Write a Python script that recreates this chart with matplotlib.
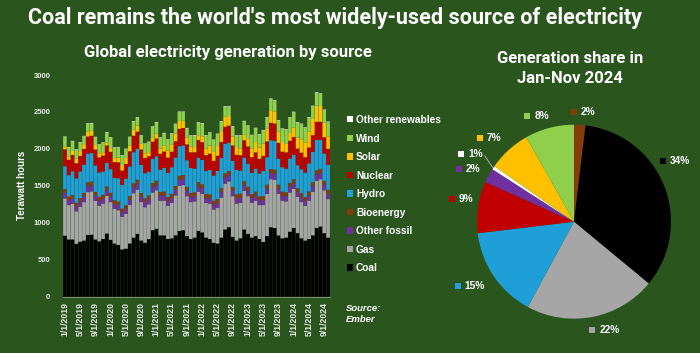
import matplotlib
matplotlib.use("Agg")
import matplotlib.pyplot as plt
from matplotlib.patches import Patch
import numpy as np

# ---------------- data ----------------
months = [f"{m}/1/{y}" for y in range(2019, 2025) for m in range(1, 13)][:70]

coal = [
    825, 775, 775, 715, 745, 760, 835, 840, 775, 750, 780, 855,
    770, 720, 700, 640, 650, 720, 800, 850, 760, 730, 780, 900,
    920, 830, 830, 780, 790, 830, 890, 900, 820, 780, 800, 890,
    870, 800, 780, 730, 720, 800, 910, 940, 810, 760, 790, 910,
    850, 800, 820, 780, 740, 820, 940, 930, 830, 790, 800, 880,
    930, 860, 790, 760, 780, 830, 930, 950, 860, 800]
gas = [
    505, 465, 480, 440, 470, 520, 580, 585, 520, 480, 480, 510,
    510, 470, 470, 440, 470, 520, 600, 600, 520, 480, 470, 510,
    520, 470, 470, 450, 480, 540, 610, 610, 540, 500, 490, 530,
    520, 470, 480, 450, 480, 540, 620, 620, 550, 500, 480, 520,
    510, 470, 480, 460, 500, 570, 650, 650, 560, 510, 490, 530,
    530, 490, 490, 470, 520, 590, 640, 640, 580, 520]
other_fossil = [
    75, 68, 72, 68, 70, 74, 80, 80, 72, 70, 70, 74,
    74, 68, 68, 64, 66, 72, 80, 80, 72, 70, 70, 74,
    76, 70, 72, 68, 70, 76, 82, 82, 74, 72, 72, 76,
    76, 70, 72, 68, 70, 76, 84, 84, 74, 72, 72, 76,
    74, 68, 70, 66, 68, 74, 82, 82, 74, 70, 70, 74,
    74, 68, 70, 66, 70, 76, 84, 84, 74, 72]
bioenergy = [
    50, 46, 50, 48, 50, 50, 53, 53, 50, 50, 50, 53,
    52, 48, 50, 48, 50, 51, 54, 54, 51, 51, 51, 54,
    54, 49, 52, 50, 52, 52, 55, 55, 52, 52, 52, 55,
    55, 50, 53, 51, 53, 53, 56, 56, 53, 53, 53, 56,
    55, 50, 53, 51, 53, 53, 56, 56, 53, 53, 53, 56,
    56, 51, 54, 52, 54, 54, 57, 57, 54, 54]
hydro = [
    310, 290, 320, 330, 360, 380, 390, 385, 360, 330, 315, 320,
    320, 300, 315, 320, 360, 400, 420, 420, 380, 340, 320, 325,
    330, 300, 320, 330, 360, 385, 400, 400, 360, 340, 320, 330,
    330, 310, 330, 340, 380, 410, 400, 385, 350, 330, 310, 320,
    310, 290, 310, 310, 340, 370, 390, 390, 350, 330, 320, 330,
    330, 310, 320, 330, 380, 410, 410, 390, 370, 340]
nuclear = [
    230, 210, 220, 205, 210, 215, 230, 235, 215, 205, 215, 235,
    235, 215, 215, 195, 200, 205, 225, 230, 210, 205, 210, 235,
    240, 215, 220, 205, 210, 220, 235, 235, 215, 210, 220, 240,
    240, 215, 220, 200, 205, 215, 230, 230, 210, 205, 210, 235,
    235, 210, 220, 200, 205, 215, 235, 235, 215, 210, 220, 240,
    240, 225, 225, 210, 215, 225, 245, 245, 220, 215]
solar = [
    40, 45, 55, 60, 65, 65, 65, 65, 60, 55, 45, 40,
    50, 55, 65, 75, 80, 80, 80, 80, 75, 65, 55, 50,
    65, 70, 85, 95, 100, 105, 105, 100, 95, 80, 70, 65,
    80, 90, 110, 120, 130, 135, 135, 130, 120, 105, 90, 80,
    100, 115, 140, 150, 165, 170, 170, 165, 150, 130, 115, 105,
    130, 150, 180, 200, 215, 220, 220, 215, 195, 170]
wind = [
    125, 120, 130, 120, 115, 105, 105, 100, 105, 115, 125, 135,
    140, 140, 135, 125, 120, 110, 110, 105, 110, 125, 135, 150,
    150, 145, 160, 145, 140, 125, 120, 115, 120, 140, 155, 165,
    170, 175, 170, 160, 160, 140, 135, 125, 130, 150, 170, 175,
    175, 180, 185, 175, 175, 150, 150, 140, 150, 175, 190, 205,
    205, 200, 205, 195, 190, 170, 170, 160, 170, 190]
other_renewables = [
    7, 7, 7, 7, 7, 7, 8, 8, 7, 7, 7, 7,
    7, 7, 7, 7, 7, 7, 8, 8, 7, 7, 7, 7,
    8, 7, 8, 7, 8, 8, 8, 8, 8, 8, 8, 8,
    8, 7, 8, 7, 8, 8, 8, 8, 8, 8, 8, 8,
    8, 8, 8, 8, 8, 8, 9, 9, 8, 8, 8, 8,
    8, 8, 8, 8, 8, 9, 9, 9, 9, 9]

series_names = ["Coal", "Gas", "Other fossil", "Bioenergy", "Hydro",
                "Nuclear", "Solar", "Wind", "Other renewables"]
series_values = [coal, gas, other_fossil, bioenergy, hydro,
                 nuclear, solar, wind, other_renewables]
colors = {"Coal": "#000000", "Gas": "#a6a6a6", "Other fossil": "#7030a0",
          "Bioenergy": "#843c0c", "Hydro": "#1e9fd8", "Nuclear": "#c00000",
          "Solar": "#ffc000", "Wind": "#8fcf4c", "Other renewables": "#ffffff"}

pie_names = ["Bioenergy", "Coal", "Gas", "Hydro", "Nuclear", "Other fossil",
             "Other renewables", "Solar", "Wind"]
pie_shares = [1.9, 34.1, 21.9, 15.2, 8.6, 2.4, 0.6, 7.1, 8.2]

# ---------------- style ----------------
BG = "#2a561e"
FG = "#ffffff"
COND = ["Liberation Sans Narrow", "Roboto", "DejaVu Sans"]
plt.rcParams["font.family"] = ["Liberation Sans", "DejaVu Sans"]

fig = plt.figure(figsize=(7.0, 3.53), dpi=100, facecolor=BG)

# ---------------- stacked bars ----------------
W, H = 700, 353
ax = fig.add_axes([63 / W, 1 - 296.7 / H, (330 - 63) / W, (296.7 - 75) / H])
ax.set_facecolor(BG)
x = np.arange(len(months))
bottom = np.zeros(len(months))
for name, vals in zip(series_names, series_values):
    v = np.array(vals, dtype=float)
    bars = ax.bar(x, v, bottom=bottom, width=0.93, color=colors[name],
                  linewidth=0)
    for b in bars:
        b.set_snap(False)
    bottom += v
ax.set_xlim(-0.5, len(months) - 0.5)
ax.set_ylim(0, 3000)
ax.set_yticks(range(0, 3001, 500))
ax.set_yticklabels([str(t) for t in range(0, 3001, 500)], fontsize=5.5,
                   fontweight="bold", color="#e8e8e8")
ax.set_xticks(x[::4])
ax.set_xticklabels(months[::4], rotation=90, fontsize=6.3, fontweight="bold",
                   color="#e8e8e8")
ax.tick_params(axis="y", length=0, pad=9)
ax.tick_params(axis="x", length=0, pad=4)
for s in ["top", "right", "left"]:
    ax.spines[s].set_visible(False)
ax.spines["bottom"].set_color("#8a9a86")
ax.spines["bottom"].set_linewidth(0.6)
ax.set_ylabel("Terawatt hours", fontsize=7, fontweight="bold", color=FG,
              labelpad=5)

# legend
handles = [Patch(facecolor=colors[n], edgecolor="none", label=n)
           for n in reversed(series_names)]
leg = fig.legend(handles=handles, loc="upper left",
                 bbox_to_anchor=(347 / W, 1 - 115 / H), frameon=False,
                 handlelength=0.55, handleheight=0.55, handletextpad=0.35,
                 labelspacing=0.84, borderaxespad=0, borderpad=0,
                 prop={"family": ["Liberation Sans", "DejaVu Sans"],
                       "weight": "bold", "size": 7.3})
for t in leg.get_texts():
    t.set_color(FG)

fig.text(346 / W, 1 - 304 / H, "Source:\nEmber", fontsize=6.8,
         fontweight="bold", style="italic", color=FG, va="top", ha="left",
         linespacing=1.35)

# ---------------- titles ----------------
fig.text(335 / W, 1 - 18 / H,
         "Coal remains the world's most widely-used source of electricity",
         fontsize=15.5, fontweight="bold", color=FG, ha="center", va="center",
         family=COND)
fig.text(228 / W, 1 - 52 / H, "Global electricity generation by source",
         fontsize=12, fontweight="bold", color=FG, ha="center",
         va="center", family=COND)
fig.text(570 / W, 1 - 68.5 / H, "Generation share in\nJan-Nov 2024",
         fontsize=12, fontweight="bold", color=FG, ha="center",
         va="center", family=COND, linespacing=1.45)

# ---------------- pie ----------------
R = 97
pax = fig.add_axes([(574 - R) / W, 1 - (221.7 + R) / H, 2 * R / W, 2 * R / H])
pax.set_facecolor(BG)
wedges, _ = pax.pie(pie_shares, colors=[colors[n] for n in pie_names],
                    startangle=90, counterclock=False,
                    wedgeprops={"linewidth": 0})
pax.set_xlim(-1, 1)
pax.set_ylim(-1, 1)
pax.set_aspect("equal")
pax.axis("off")

label_pos = {"Bioenergy": (0.0, 1.13), "Coal": (0.92, 0.63),
             "Gas": (0.19, -1.12), "Hydro": (-1.20, -0.66),
             "Nuclear": (-1.26, 0.23), "Other fossil": (-1.19, 0.54),
             "Other renewables": (-1.16, 0.70), "Solar": (-0.97, 0.86),
             "Wind": (-0.48, 1.09)}
for n, sh in zip(pie_names, pie_shares):
    lx, ly = label_pos[n]
    pax.plot([lx], [ly], marker="s", markersize=4.2, color=colors[n],
             markeredgewidth=0, clip_on=False)
    pax.text(lx + 0.07, ly, f"{round(sh):d}%", fontsize=7.3,
             fontweight="bold", color=FG, va="center", ha="left")
# leader line for the thin "Other renewables" slice
pax.plot([-0.92, -0.84], [0.68, 0.56], color="#bbbbbb", linewidth=0.6,
         clip_on=False)

fig.savefig("out.png", dpi=100, facecolor=BG)
